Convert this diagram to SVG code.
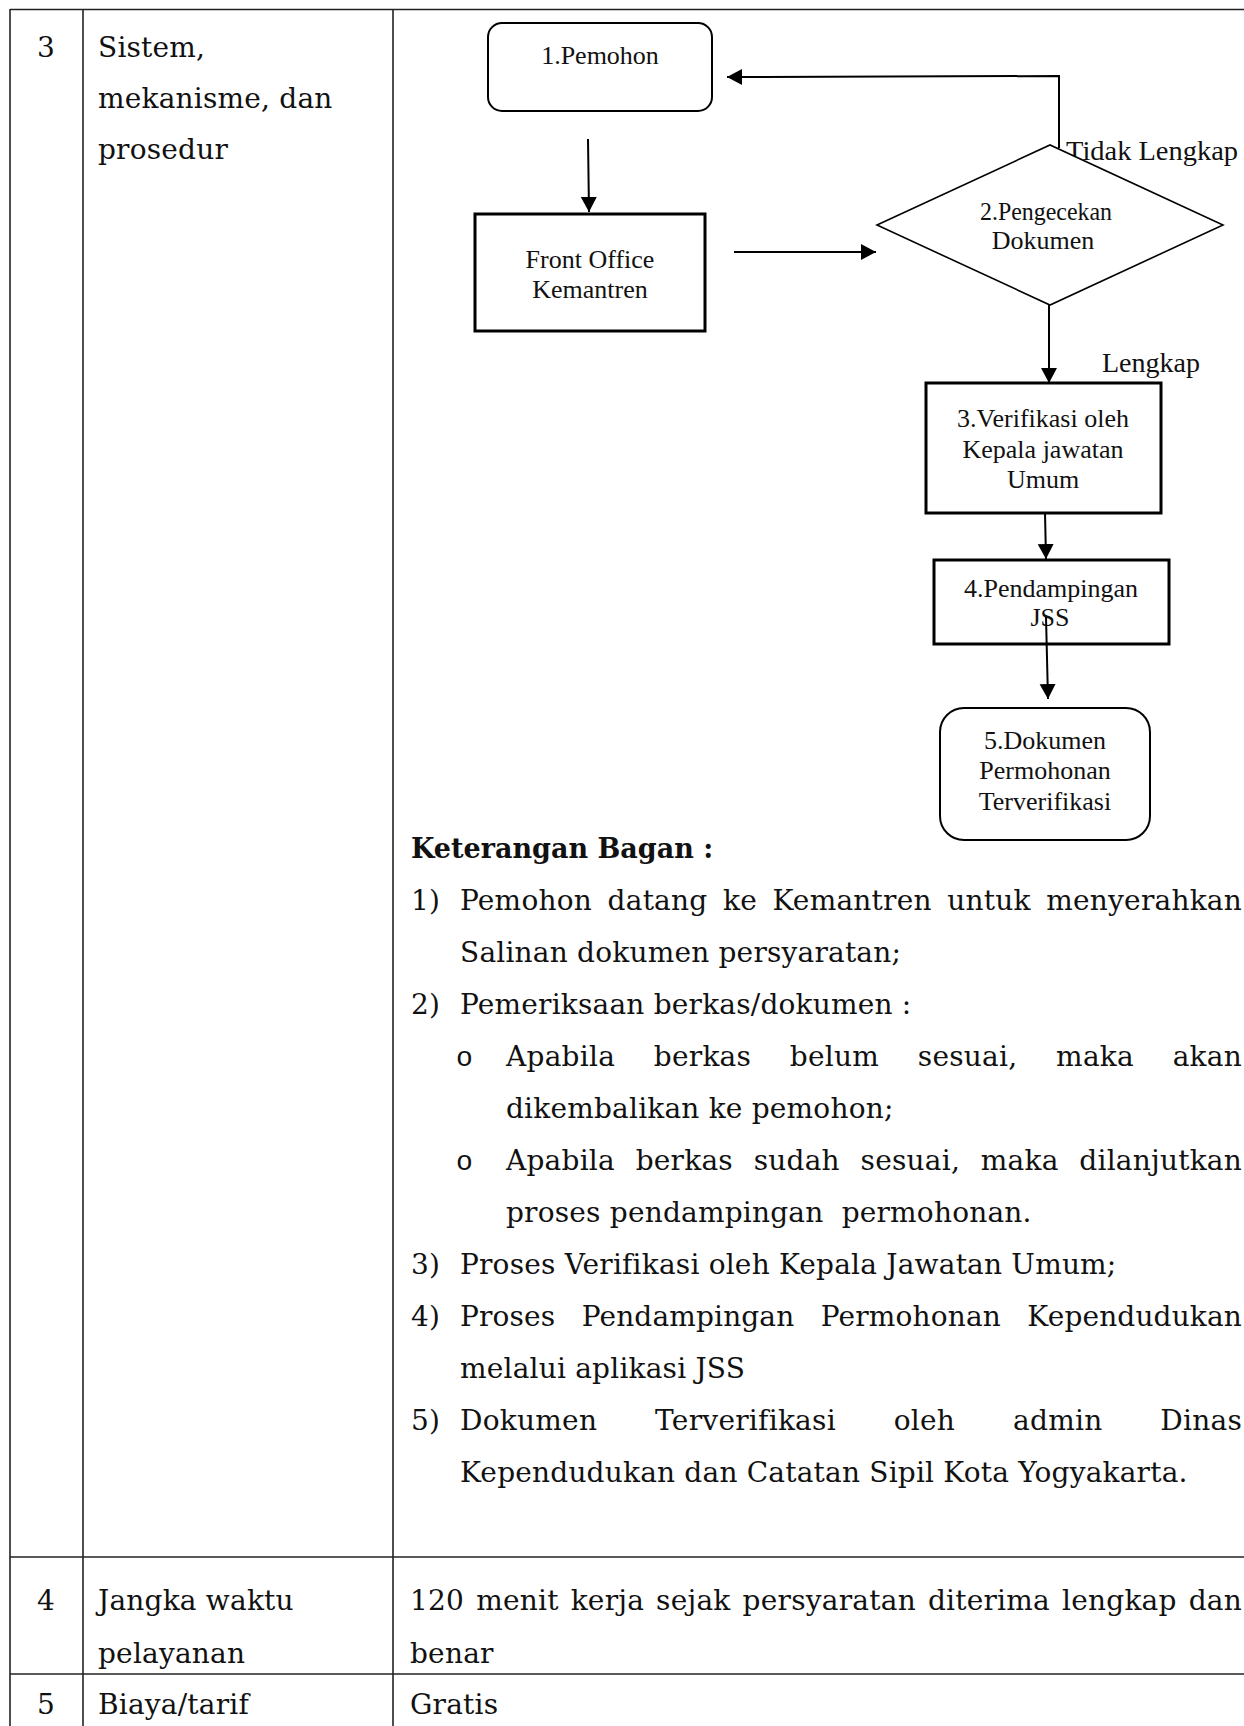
<svg xmlns="http://www.w3.org/2000/svg" width="1244" height="1726" viewBox="0 0 1244 1726">
  <style>
    .grid { stroke: #222; stroke-width: 1.6; fill: none; }
    .t { font-family: "DejaVu Serif", serif; font-size: 28px; letter-spacing: 0.2px; fill: #111; }
    .tb { font-family: "DejaVu Serif", serif; font-size: 27px; font-weight: bold; fill: #111; }
    .bul { font-family: "Liberation Mono", "Courier New", monospace; font-size: 28px; fill: #111; }
    .f { font-family: "Liberation Serif", "Times New Roman", serif; font-size: 26px; fill: #111; text-anchor: middle; }
    .lbl { font-family: "Liberation Serif", "Times New Roman", serif; font-size: 27px; fill: #111; }
    .box { fill: #fff; stroke: #000; stroke-width: 3; }
    .rbox { fill: #fff; stroke: #000; stroke-width: 2; }
    .dia { fill: #fff; stroke: #000; stroke-width: 1.6; }
    .conn { stroke: #000; stroke-width: 2; fill: none; marker-end: url(#arrow); }
  </style>
  <defs>
    <marker id="arrow" markerUnits="userSpaceOnUse" markerWidth="17" markerHeight="17" refX="15" refY="8" orient="auto">
      <path d="M0,0 L15,8 L0,16 z" fill="#000"/>
    </marker>
  </defs>

  <rect width="1244" height="1726" fill="#fff"/>

  <!-- table rules -->
  <g id="table">
    <line class="grid" x1="10" y1="9.5" x2="1244" y2="9.5"/>
    <line class="grid" x1="10" y1="9" x2="10" y2="1726"/>
    <line class="grid" x1="83" y1="9" x2="83" y2="1726"/>
    <line class="grid" x1="393" y1="9" x2="393" y2="1726"/>
    <line class="grid" x1="10" y1="1557" x2="1244" y2="1557"/>
    <line class="grid" x1="10" y1="1674" x2="1244" y2="1674"/>
  </g>

  <!-- row 3 -->
  <g id="row3-label">
    <text class="t" x="46" y="57" text-anchor="middle">3</text>
    <text class="t" x="98" y="57">Sistem,</text>
    <text class="t" x="98" y="108">mekanisme, dan</text>
    <text class="t" x="98" y="159">prosedur</text>
  </g>

  <!-- flowchart connectors -->
  <g id="connectors">
    <line class="conn" x1="588" y1="139" x2="589" y2="212"/>
    <line class="conn" x1="734" y1="252" x2="876" y2="252"/>
    <polyline class="conn" points="1059,148 1059,76 727,77"/>
    <line class="conn" x1="1049" y1="292" x2="1049" y2="383"/>
    <line class="conn" x1="1045" y1="513" x2="1046" y2="559"/>
    <text class="lbl" x="1066" y="160" textLength="172" lengthAdjust="spacingAndGlyphs">Tidak Lengkap</text>
    <text class="lbl" x="1102" y="372" textLength="98" lengthAdjust="spacingAndGlyphs">Lengkap</text>
  </g>

  <!-- flowchart nodes -->
  <g id="node-pemohon">
    <rect class="rbox" x="488" y="23" width="224" height="88" rx="14"/>
    <text class="f" x="600" y="64">1.Pemohon</text>
  </g>
  <g id="node-front-office">
    <rect class="box" x="475" y="214" width="230" height="117"/>
    <text class="f" x="590" y="268">Front Office</text>
    <text class="f" x="590" y="298">Kemantren</text>
  </g>
  <g id="node-pengecekan">
    <polygon class="dia" points="877,225 1050,145 1223,225 1050,305"/>
    <text class="f" x="1046" y="220" textLength="132" lengthAdjust="spacingAndGlyphs">2.Pengecekan</text>
    <text class="f" x="1043" y="249">Dokumen</text>
  </g>
  <g id="node-verifikasi">
    <rect class="box" x="926" y="383" width="235" height="130"/>
    <text class="f" x="1043" y="427">3.Verifikasi oleh</text>
    <text class="f" x="1043" y="458">Kepala jawatan</text>
    <text class="f" x="1043" y="488">Umum</text>
  </g>
  <g id="node-pendampingan">
    <rect class="box" x="934" y="560" width="235" height="84"/>
    <text class="f" x="1051" y="597">4.Pendampingan</text>
    <text class="f" x="1050" y="626">JSS</text>
  </g>
  <g id="node-dokumen">
    <rect class="rbox" x="940" y="708" width="210" height="132" rx="24"/>
    <text class="f" x="1045" y="749">5.Dokumen</text>
    <text class="f" x="1045" y="779">Permohonan</text>
    <text class="f" x="1045" y="810">Terverifikasi</text>
  </g>
  <!-- last arrow runs over the JSS label -->
  <g id="connector-overlay">
    <line class="conn" x1="1046" y1="617" x2="1048" y2="699"/>
  </g>

  <!-- legend text; justified lines use word-spacing plus textLength -->
  <g id="keterangan">
    <text class="tb" x="411" y="858">Keterangan Bagan :</text>

    <text class="t" x="411" y="910">1)</text>
    <text class="t" x="460" y="910" word-spacing="6.4" textLength="782" lengthAdjust="spacing">Pemohon datang ke Kemantren untuk menyerahkan</text>
    <text class="t" x="460" y="962">Salinan dokumen persyaratan;</text>

    <text class="t" x="411" y="1014">2)</text>
    <text class="t" x="460" y="1014">Pemeriksaan berkas/dokumen :</text>

    <text class="bul" x="456" y="1066">o</text>
    <text class="t" x="506" y="1066" word-spacing="29.5" textLength="736" lengthAdjust="spacing">Apabila berkas belum sesuai, maka akan</text>
    <text class="t" x="506" y="1118">dikembalikan ke pemohon;</text>

    <text class="bul" x="456" y="1170">o</text>
    <text class="t" x="506" y="1170" word-spacing="11.6" textLength="736" lengthAdjust="spacing">Apabila berkas sudah sesuai, maka dilanjutkan</text>
    <text class="t" x="506" y="1222" xml:space="preserve">proses pendampingan  permohonan.</text>

    <text class="t" x="411" y="1274">3)</text>
    <text class="t" x="460" y="1274">Proses Verifikasi oleh Kepala Jawatan Umum;</text>

    <text class="t" x="411" y="1326">4)</text>
    <text class="t" x="460" y="1326" word-spacing="17.4" textLength="782" lengthAdjust="spacing">Proses Pendampingan Permohonan Kependudukan</text>
    <text class="t" x="460" y="1378">melalui aplikasi JSS</text>

    <text class="t" x="411" y="1430">5)</text>
    <text class="t" x="460" y="1430" word-spacing="48.7" textLength="782" lengthAdjust="spacing">Dokumen Terverifikasi oleh admin Dinas</text>
    <text class="t" x="460" y="1482">Kependudukan dan Catatan Sipil Kota Yogyakarta.</text>
  </g>

  <!-- row 4 -->
  <g id="row4">
    <text class="t" x="46" y="1610" text-anchor="middle">4</text>
    <text class="t" x="98" y="1610">Jangka waktu</text>
    <text class="t" x="98" y="1663">pelayanan</text>
    <text class="t" x="410" y="1610" word-spacing="2.9" textLength="832" lengthAdjust="spacing">120 menit kerja sejak persyaratan diterima lengkap dan</text>
    <text class="t" x="410" y="1663">benar</text>
  </g>

  <!-- row 5 -->
  <g id="row5">
    <text class="t" x="46" y="1714" text-anchor="middle">5</text>
    <text class="t" x="98" y="1714">Biaya/tarif</text>
    <text class="t" x="410" y="1714">Gratis</text>
  </g>
</svg>
